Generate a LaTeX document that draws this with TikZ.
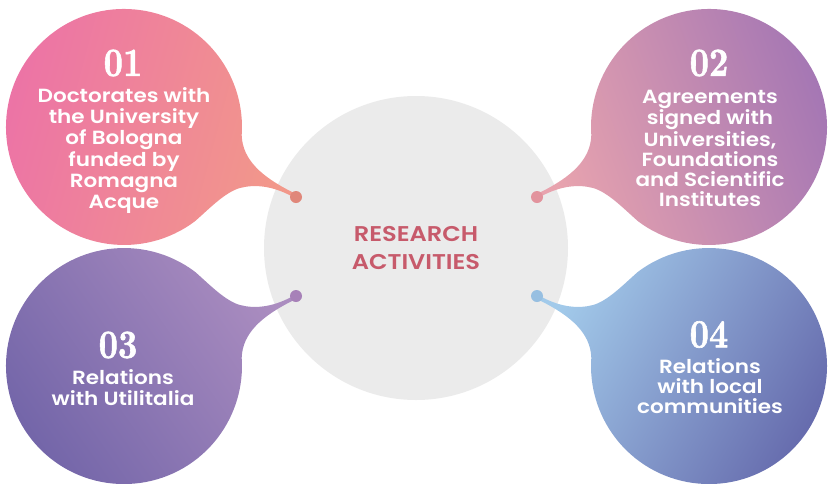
\documentclass[tikz,border=0pt]{standalone}
\usepackage{fontspec}
\usepackage{graphicx}
\newfontfamily\bodyfont{Poppins SemiBold}[FakeStretch=1.13]
\newfontfamily\numfont{lmroman10-bold.otf}[FakeBold=1.6]
\definecolor{hubgrey}{HTML}{EBEBEB}
\definecolor{titlecol}{HTML}{C75A6B}
\definecolor{aL}{HTML}{EC72A7}
\definecolor{aR}{HTML}{F2988A}
\definecolor{aD}{HTML}{E0877A}
\definecolor{bL}{HTML}{E8A3AE}
\definecolor{bR}{HTML}{A275B4}
\definecolor{bD}{HTML}{E2939D}
\definecolor{cL}{HTML}{7164A8}
\definecolor{cR}{HTML}{AB8DC0}
\definecolor{cD}{HTML}{A781B8}
\definecolor{dL}{HTML}{A2CAEA}
\definecolor{dR}{HTML}{6468AB}
\definecolor{dD}{HTML}{97BFE1}
\newcommand\numtxt[1]{\scalebox{0.84}[1]{#1}}
\begin{document}
\begin{tikzpicture}[x=0.75pt,y=0.75pt,
  hub/.style={circle, fill=hubgrey, minimum size=228pt, inner sep=0pt, align=center,
    text=titlecol, font=\bodyfont\fontsize{16}{21}\selectfont},
  dotnode/.style={circle, minimum size=9pt, inner sep=0pt},
  numlabel/.style={text=white, inner sep=0pt, font=\numfont\fontsize{30}{30}\selectfont},
  bodylabel/.style={text=white, align=center, inner sep=0pt,
    font=\bodyfont\fontsize{14.3}{15.6}\selectfont}]
\useasboundingbox (0,0) rectangle (833,-483);

\node[hub] (hub) at (416,-248) {RESEARCH\\ACTIVITIES};

% blob 01
\shade[left color=aL, right color=aR, shading angle=75]
  (241.7,-135.2) .. controls (242.5,-160) and (262,-177) .. (293,-192.5)
  -- (290.8,-195.7) .. controls (272,-186) and (255,-184) .. (240,-188)
  .. controls (225,-192) and (208,-210) .. (195.0,-221.2)
  arc[start angle=-53, end angle=-364, radius=118] -- cycle;
% blob 02
\shade[left color=bL, right color=bR, shading angle=110]
  (591.3,-135.2) .. controls (590.5,-160) and (571,-177) .. (540,-192.5)
  -- (542.2,-195.7) .. controls (561,-186) and (578,-184) .. (593,-188)
  .. controls (608,-192) and (625,-210) .. (638.0,-221.2)
  arc[start angle=233, end angle=544, radius=118] -- cycle;
% blob 03
\shade[left color=cL, right color=cR, shading angle=125]
  (241.7,-357.8) .. controls (242.5,-333) and (262,-316) .. (293,-300.5)
  -- (290.8,-297.3) .. controls (272,-307) and (255,-309) .. (240,-305)
  .. controls (225,-301) and (208,-283) .. (195.0,-271.8)
  arc[start angle=53, end angle=364, radius=118] -- cycle;
% blob 04
\shade[left color=dL, right color=dR, shading angle=60]
  (591.3,-357.8) .. controls (590.5,-333) and (571,-316) .. (540,-300.5)
  -- (542.2,-297.3) .. controls (561,-307) and (578,-309) .. (593,-305)
  .. controls (608,-301) and (625,-283) .. (638.0,-271.8)
  arc[start angle=127, end angle=-184, radius=118] -- cycle;

\node[dotnode, fill=aD] (d1) at (296,-197) {};
\node[dotnode, fill=bD] (d2) at (537,-197) {};
\node[dotnode, fill=cD] (d3) at (296,-296) {};
\node[dotnode, fill=dD] (d4) at (537,-296) {};

\node[numlabel] (n1) at (123,-63) {\numtxt{01}};
\node[numlabel] (n2) at (709,-63) {\numtxt{02}};
\node[numlabel] (n3) at (118,-345) {\numtxt{03}};
\node[numlabel] (n4) at (709,-334.5) {\numtxt{04}};

\node[bodylabel, font=\bodyfont\fontsize{14.3}{16}\selectfont] (t1) at (124,-150.5) {Doctorates with\\the University\\of Bologna\\funded by\\Romagna\\Acque};
\node[bodylabel, font=\bodyfont\fontsize{14.3}{15}\selectfont] (t2) at (710,-148) {Agreements\\signed with\\Universities,\\Foundations\\and Scientific\\Institutes};
\node[bodylabel] (t3) at (123,-388) {Relations\\with Utilitalia};
\node[bodylabel, font=\bodyfont\fontsize{14.3}{14.8}\selectfont] (t4) at (710,-386) {Relations\\with local\\communities};
\end{tikzpicture}
\end{document}
